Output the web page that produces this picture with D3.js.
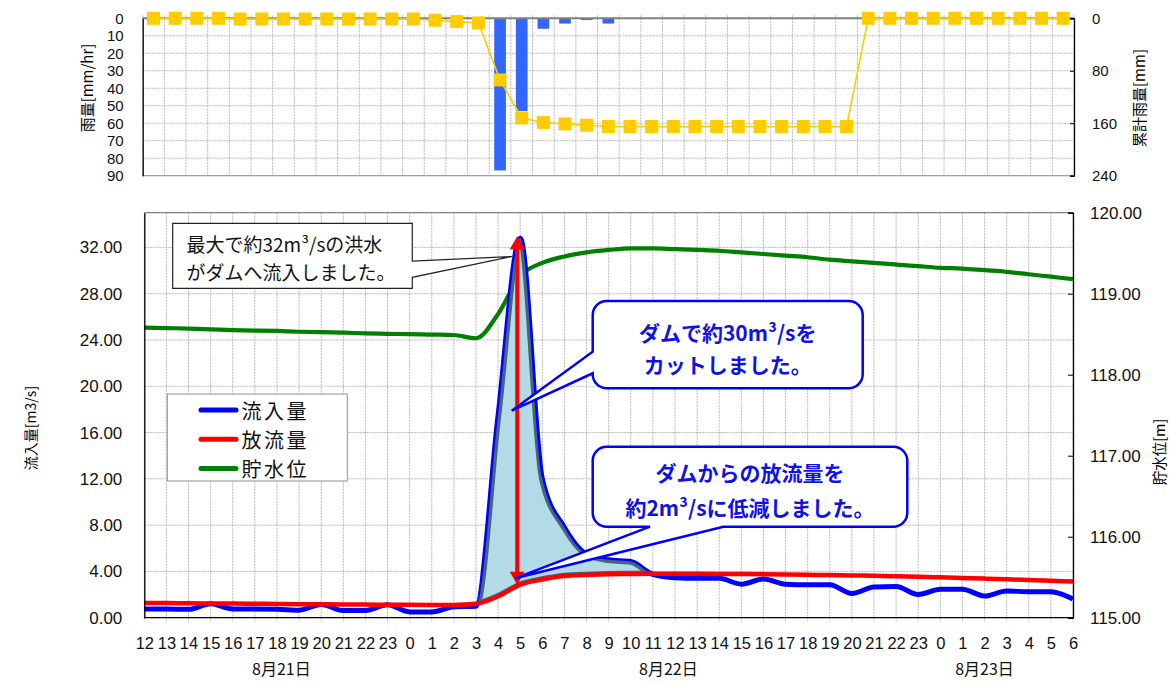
<!DOCTYPE html>
<html lang="ja">
<head>
<meta charset="utf-8">
<script src="https://cdn.jsdelivr.net/npm/d3@7"></script>
<style>
  body { margin: 0; background: #fff; }
  svg { display: block; }
</style>
</head>
<body>
<svg id="chart" width="1169" height="686"></svg>
<script>
// hourly categories, 8/21 12:00 -> 8/23 6:00
const hours = [12,13,14,15,16,17,18,19,20,21,22,23,
  0,1,2,3,4,5,6,7,8,9,10,11,12,13,14,15,16,17,18,19,20,21,22,23,
  0,1,2,3,4,5,6];
const dayLabels = ["8月21日", "8月22日", "8月23日"];

// rainfall [mm/hr] and cumulative rainfall [mm]
const rainfall = [0,0,0,0,0,0,0,0,0,0,0,0,
  0,0,0,0,87,53,6,3,1,3,0,0,0,0,0,0,0,0,0,0,0,0,0,0,
  0,0,0,0,0,0,0];
const cumulativeRain = [0,0,0,0,1,1,1,1,1,1,1,1,
  1,3,5,7,94,152,159,161,163,165,165,165,165,165,165,165,165,165,165,165,165,0,0,0,
  0,0,0,0,0,0,0];

// inflow / outflow [m3/s]
const inflow = [0.75,0.75,0.72,1.2,0.75,0.75,0.73,0.65,1.15,0.62,0.62,1.12,
  0.5,0.5,0.95,1.0,17.5,32.8,12.0,7.8,5.5,5.0,4.85,3.75,3.45,3.4,3.4,2.9,3.35,2.9,2.85,2.85,2.1,2.65,2.7,2.0,
  2.45,2.45,1.88,2.3,2.25,2.25,1.62];
const outflow = [1.28,1.26,1.25,1.23,1.22,1.2,1.19,1.17,1.16,1.14,1.13,1.12,
  1.11,1.1,1.1,1.2,1.85,2.85,3.3,3.6,3.7,3.75,3.78,3.8,3.8,3.79,3.78,3.77,3.75,3.73,3.71,3.68,3.65,3.62,3.58,3.54,
  3.49,3.44,3.38,3.32,3.26,3.19,3.12];
// reservoir water level [m]
const waterLevel = [118.58,118.575,118.57,118.56,118.55,118.545,118.54,118.53,118.525,118.52,118.51,118.505,
  118.5,118.495,118.49,118.45,118.75,119.22,119.38,119.46,119.51,119.54,119.56,119.56,119.55,119.54,119.53,119.51,119.49,119.47,119.45,119.42,119.4,119.38,119.36,119.34,
  119.32,119.31,119.29,119.27,119.24,119.21,119.18];

const rainTicks = [0,10,20,30,40,50,60,70,80,90];
const cumTicks = [0,80,160,240];
const flowTicks = [0,4,8,12,16,20,24,28,32];
const levelTicks = [115,116,117,118,119,120];

const legendNames = ["流入量", "放流量", "貯水位"];
const legendColors = ["#0000ff", "#ff0000", "#008000"];

const LATIN = '"Liberation Sans", "Noto Sans CJK JP", sans-serif';
const JP = '"Noto Sans CJK JP", "Liberation Sans", sans-serif';
const GRID = "#9a9a9a";

const svg = d3.select("#chart");
const idx = d3.range(hours.length);

// ---------- rainfall panel ----------
const rainBox = { left: 142.7, right: 1074, y0: 18.3, y1: 175.7 };
const xBand = d3.scaleBand().domain(idx).range([rainBox.left, rainBox.right])
  .paddingInner(0.46).paddingOuter(0.23);
const yRain = d3.scaleLinear().domain([0, 90]).range([rainBox.y0, rainBox.y1]);
const yCum = d3.scaleLinear().domain([0, 240]).range([rainBox.y0, rainBox.y1]);
const step = xBand.step();
const bandMid = i => xBand(i) + xBand.bandwidth() / 2;

const gTop = svg.append("g");
gTop.selectAll(".vgrid").data(d3.range(hours.length + 1)).join("line")
  .attr("x1", k => rainBox.left + k * step).attr("x2", k => rainBox.left + k * step)
  .attr("y1", rainBox.y0 - 3).attr("y2", rainBox.y1)
  .attr("stroke", GRID).attr("stroke-width", 0.7).attr("stroke-dasharray", "2 1");
gTop.selectAll(".hgrid").data(rainTicks.slice(1)).join("line")
  .attr("x1", rainBox.left).attr("x2", rainBox.right)
  .attr("y1", d => yRain(d)).attr("y2", d => yRain(d))
  .attr("stroke", GRID).attr("stroke-width", 0.7).attr("stroke-dasharray", "2 1");

gTop.selectAll(".bar").data(idx.filter(i => rainfall[i] > 0)).join("rect")
  .attr("x", i => xBand(i)).attr("width", xBand.bandwidth())
  .attr("y", rainBox.y0).attr("height", i => yRain(rainfall[i]) - rainBox.y0)
  .attr("fill", "#3366ff");

gTop.append("line").attr("x1", rainBox.left).attr("x2", rainBox.right)
  .attr("y1", rainBox.y0).attr("y2", rainBox.y0).attr("stroke", "#808080").attr("stroke-width", 2);
gTop.append("line").attr("x1", rainBox.left).attr("x2", rainBox.right)
  .attr("y1", rainBox.y1).attr("y2", rainBox.y1).attr("stroke", "#a0a0a0").attr("stroke-width", 1.2);

gTop.append("path").datum(idx)
  .attr("d", d3.line().x(i => bandMid(i)).y(i => yCum(cumulativeRain[i])))
  .attr("fill", "none").attr("stroke", "#ffcc00").attr("stroke-width", 1.6);
gTop.selectAll(".sq").data(idx).join("rect")
  .attr("x", i => bandMid(i) - 6.5).attr("y", i => yCum(cumulativeRain[i]) - 6.5)
  .attr("width", 13).attr("height", 13).attr("fill", "#ffcc00");

const axRain = gTop.append("g").attr("transform", `translate(${rainBox.left},0)`)
  .call(d3.axisLeft(yRain).tickValues(rainTicks).tickSize(0).tickPadding(19));
const axCum = gTop.append("g").attr("transform", `translate(${rainBox.right},0)`)
  .call(d3.axisRight(yCum).tickValues(cumTicks).tickSize(-4).tickPadding(18));
[axRain, axCum].forEach(a => {
  a.attr("font-family", LATIN).attr("font-size", 15);
  a.select(".domain").attr("stroke", "#000").attr("stroke-width", 1.3);
  a.selectAll("text").attr("fill", "#111");
});

svg.append("text").attr("transform", "translate(86,88) rotate(-90)")
  .attr("text-anchor", "middle").attr("dominant-baseline", "central")
  .attr("font-family", JP).attr("font-size", 15).text("雨量[mm/hr]");
svg.append("text").attr("transform", "translate(1138,98) rotate(-90)")
  .attr("text-anchor", "middle").attr("dominant-baseline", "central")
  .attr("font-family", JP).attr("font-size", 15).text("累計雨量[mm]");

// ---------- flow panel ----------
const flowBox = { left: 144.3, right: 1073, y0: 212.7, y1: 617.7 };
const x = d3.scaleLinear().domain([0, hours.length - 1]).range([flowBox.left, flowBox.right]);
const yFlow = d3.scaleLinear().domain([0, 35]).range([flowBox.y1, flowBox.y0]);
const yLevel = d3.scaleLinear().domain([115, 120]).range([flowBox.y1, flowBox.y0]);
const curve = d3.curveMonotoneX;

const gMain = svg.append("g");
gMain.selectAll(".vgrid").data(idx).join("line")
  .attr("x1", i => x(i)).attr("x2", i => x(i))
  .attr("y1", flowBox.y0).attr("y2", flowBox.y1 + 4)
  .attr("stroke", GRID).attr("stroke-width", 0.7).attr("stroke-dasharray", "2 1");
gMain.selectAll(".hgrid").data(flowTicks.slice(1)).join("line")
  .attr("x1", flowBox.left).attr("x2", flowBox.right)
  .attr("y1", d => yFlow(d)).attr("y2", d => yFlow(d))
  .attr("stroke", GRID).attr("stroke-width", 0.7).attr("stroke-dasharray", "2 1");

gMain.append("line").attr("x1", flowBox.left).attr("x2", flowBox.right)
  .attr("y1", flowBox.y0).attr("y2", flowBox.y0).attr("stroke", "#808080").attr("stroke-width", 1.3);

// water level first (sits behind the cut area)
gMain.append("path").datum(idx)
  .attr("d", d3.line().x(i => x(i)).y(i => yLevel(waterLevel[i])).curve(curve))
  .attr("fill", "none").attr("stroke", "#008000").attr("stroke-width", 4.2);

// shaded "cut" region between inflow and outflow
const cutFrom = 15, cutTo = 23;
const cutArea = d3.area().x(i => x(i))
  .y0(i => yFlow(outflow[i])).y1(i => yFlow(inflow[i])).curve(curve);
const defs = svg.append("defs");
defs.append("clipPath").attr("id", "cutRange").append("rect")
  .attr("x", x(cutFrom)).attr("width", x(cutTo) - x(cutFrom))
  .attr("y", flowBox.y0).attr("height", flowBox.y1 - flowBox.y0);
defs.append("clipPath").attr("id", "cutShape").append("path").attr("d", cutArea(idx));

gMain.append("g").attr("clip-path", "url(#cutRange)")
  .append("path").attr("d", cutArea(idx)).attr("fill", "#b3dbe7");

gMain.append("path").datum(idx)
  .attr("d", d3.line().x(i => x(i)).y(i => yFlow(inflow[i])).curve(curve))
  .attr("fill", "none").attr("stroke", "#0000ff").attr("stroke-width", 5);

gMain.append("g").attr("clip-path", "url(#cutRange)")
  .append("path").attr("d", cutArea(idx)).attr("clip-path", "url(#cutShape)")
  .attr("fill", "none").attr("stroke", "#46647f").attr("stroke-width", 6.5);

gMain.append("path").datum(idx)
  .attr("d", d3.line().x(i => x(i)).y(i => yFlow(outflow[i])).curve(curve))
  .attr("fill", "none").attr("stroke", "#ff0000").attr("stroke-width", 4.5);

// double arrow: peak inflow -> outflow at the same hour
const peakIdx = d3.maxIndex(inflow);
const ax = x(peakIdx) - 3;
const ayTop = yFlow(inflow[peakIdx]) - 2;
const ayBot = yFlow(outflow[peakIdx]);
const head = 13;
gMain.append("line").attr("x1", ax).attr("x2", ax)
  .attr("y1", ayTop + head - 2).attr("y2", ayBot - head + 2)
  .attr("stroke", "#ff0000").attr("stroke-width", 4);
gMain.append("path")
  .attr("d", `M${ax},${ayTop}L${ax - 7.5},${ayTop + head}L${ax + 7.5},${ayTop + head}Z` +
             `M${ax},${ayBot}L${ax - 7.5},${ayBot - head}L${ax + 7.5},${ayBot - head}Z`)
  .attr("fill", "#ff0000");

// frame lines
gMain.append("line").attr("x1", flowBox.left).attr("x2", flowBox.right)
  .attr("y1", flowBox.y1).attr("y2", flowBox.y1).attr("stroke", "#000").attr("stroke-width", 1.3);

const axFlow = gMain.append("g").attr("transform", `translate(${flowBox.left},0)`)
  .call(d3.axisLeft(yFlow).tickValues(flowTicks).tickFormat(d3.format(".2f")).tickSize(0).tickPadding(22));
const axLevel = gMain.append("g").attr("transform", `translate(${flowBox.right},0)`)
  .call(d3.axisRight(yLevel).tickValues(levelTicks).tickFormat(d3.format(".2f")).tickSize(-5).tickPadding(17));
const axHour = gMain.append("g").attr("transform", `translate(0,${flowBox.y1})`)
  .call(d3.axisBottom(x).tickValues(idx).tickFormat(i => hours[i]).tickSize(0).tickPadding(20));
[axFlow, axLevel, axHour].forEach(a => {
  a.attr("font-family", LATIN).attr("font-size", 17);
  a.select(".domain").attr("stroke", "#000").attr("stroke-width", 1.3);
  a.selectAll("text").attr("fill", "#111");
});
axHour.attr("font-size", 16.5);
axHour.select(".domain").remove();

// day labels under the hour labels
const dayAt = [6.2, 23.7, 38];
svg.selectAll(".day").data(dayLabels).join("text")
  .attr("x", (d, k) => x(dayAt[k])).attr("y", 668)
  .attr("text-anchor", "middle").attr("dominant-baseline", "central")
  .attr("font-family", JP).attr("font-size", 16).attr("fill", "#111").text(d => d);

svg.append("text").attr("transform", "translate(30,428) rotate(-90)")
  .attr("text-anchor", "middle").attr("dominant-baseline", "central")
  .attr("font-family", JP).attr("font-size", 14).text("流入量[m3/s]");
svg.append("text").attr("transform", "translate(1158,452) rotate(-90)")
  .attr("text-anchor", "middle").attr("dominant-baseline", "central")
  .attr("font-family", JP).attr("font-size", 14.5).text("貯水位[m]");

// ---------- legend ----------
const lg = svg.append("g");
lg.append("rect").attr("x", 167.3).attr("y", 394).attr("width", 180).attr("height", 87)
  .attr("fill", "#fff").attr("stroke", "#909090").attr("stroke-width", 1);
legendNames.forEach((name, k) => {
  const ly = 410 + k * 29.2;
  lg.append("line").attr("x1", 201).attr("x2", 236).attr("y1", ly).attr("y2", ly)
    .attr("stroke", legendColors[k]).attr("stroke-width", 5).attr("stroke-linecap", "round");
  lg.append("text").attr("x", 241.5).attr("y", ly).attr("dominant-baseline", "central")
    .attr("font-family", JP).attr("font-size", 20).attr("letter-spacing", 2.5)
    .attr("fill", "#111").text(name);
});

// ---------- callouts ----------
function callout(x0, y0, x1, y1, r, side, a, b, tip) {
  const p = d3.path();
  p.moveTo(x0 + r, y0);
  p.lineTo(x1 - r, y0);
  if (r) p.arcTo(x1, y0, x1, y0 + r, r);
  if (side === "right") { p.lineTo(x1, a); p.lineTo(tip[0], tip[1]); p.lineTo(x1, b); }
  p.lineTo(x1, y1 - r);
  if (r) p.arcTo(x1, y1, x1 - r, y1, r);
  if (side === "bottom") { p.lineTo(b, y1); p.lineTo(tip[0], tip[1]); p.lineTo(a, y1); }
  p.lineTo(x0 + r, y1);
  if (r) p.arcTo(x0, y1, x0, y1 - r, r);
  if (side === "left") { p.lineTo(x0, b); p.lineTo(tip[0], tip[1]); p.lineTo(x0, a); }
  p.lineTo(x0, y0 + r);
  if (r) p.arcTo(x0, y0, x0 + r, y0, r);
  p.closePath();
  return p.toString();
}

const co = svg.append("g");
co.append("path").attr("d", callout(172.7, 223.3, 412.3, 288.3, 0, "right", 261, 277.3, [512, 256.5]))
  .attr("fill", "#fff").attr("stroke", "#222").attr("stroke-width", 1.2);
co.selectAll(".c1").data(["最大で約32m³/sの洪水", "がダムへ流入しました。"]).join("text")
  .attr("x", 186.5).attr("y", (d, k) => 243 + k * 28.7).attr("dominant-baseline", "central")
  .attr("font-family", JP).attr("font-size", 19).attr("fill", "#111").text(d => d);

co.append("path").attr("d", callout(592.7, 301, 862.7, 388.3, 14, "left", 351.7, 373.3, [511.7, 410.7]))
  .attr("fill", "#fff").attr("stroke", "#0000ff").attr("stroke-width", 2.5);
co.selectAll(".c2").data(["ダムで約30m³/sを", "カットしました。"]).join("text")
  .attr("x", 727.7).attr("y", (d, k) => 332 + k * 31.6)
  .attr("text-anchor", "middle").attr("dominant-baseline", "central")
  .attr("font-family", JP).attr("font-weight", "bold").attr("font-size", 21)
  .attr("fill", "#1010e8").text(d => d);

co.append("path").attr("d", callout(592.7, 446.7, 907.3, 526.7, 14, "bottom", 650, 723.3, [515, 578.3]))
  .attr("fill", "#fff").attr("stroke", "#0000ff").attr("stroke-width", 2.5);
co.selectAll(".c3").data(["ダムからの放流量を", "約2m³/sに低減しました。"]).join("text")
  .attr("x", 750).attr("y", (d, k) => 472 + k * 35)
  .attr("text-anchor", "middle").attr("dominant-baseline", "central")
  .attr("font-family", JP).attr("font-weight", "bold").attr("font-size", 21)
  .attr("fill", "#1010e8").text(d => d);
</script>
</body>
</html>
